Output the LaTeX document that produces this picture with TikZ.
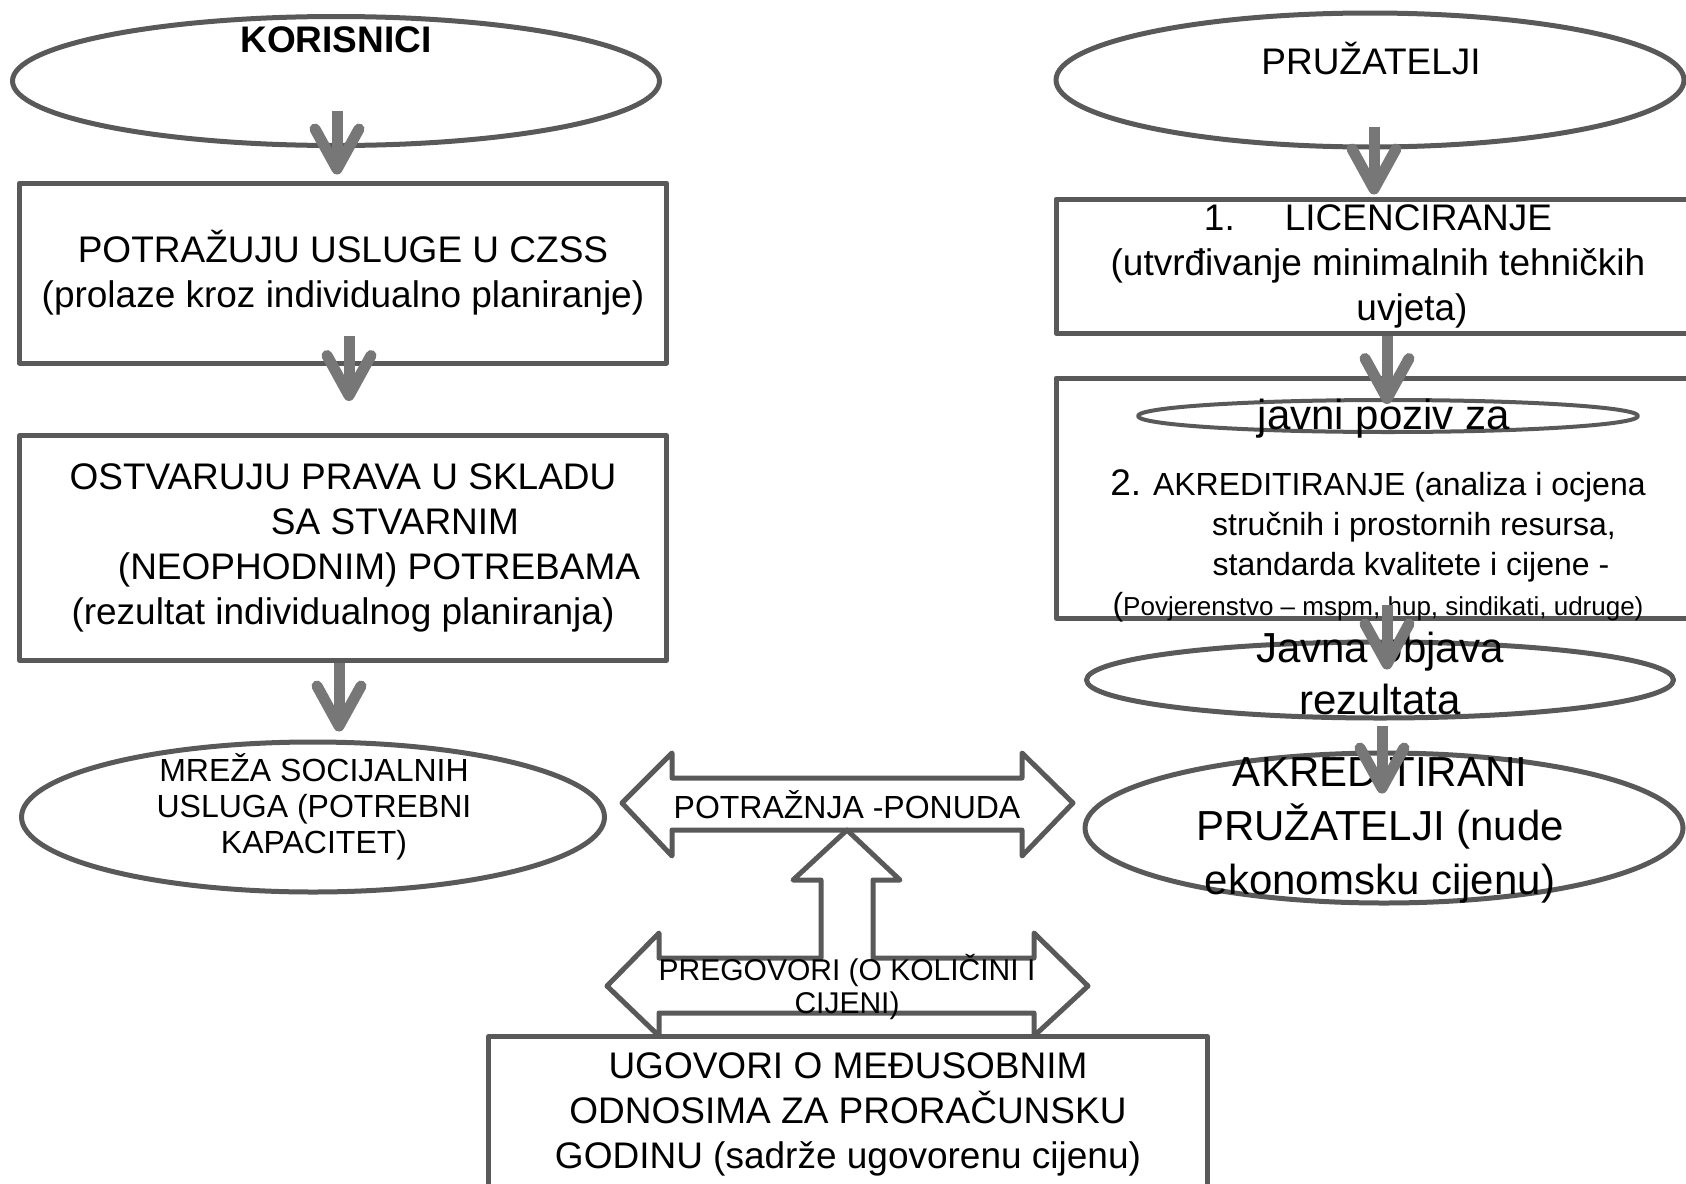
\documentclass[tikz,border=0pt]{standalone}
\usepackage{fontspec}
\setmainfont{Liberation Sans}
\usepackage{tikz}
\usetikzlibrary{arrows.meta,shapes.geometric,positioning}
\definecolor{linegray}{HTML}{595959}
\definecolor{arrowgray}{HTML}{777777}

\begin{document}
\begin{tikzpicture}[x=1pt, y=-1pt, line join=round]
\tikzstyle{box}=[rectangle, draw=linegray, line width=5pt, inner sep=2pt, align=center, font=\fontsize{37}{45}\selectfont]
\tikzstyle{oval}=[ellipse, draw=linegray, line width=5pt, inner sep=0pt]
\tikzstyle{txt}=[inner sep=0pt, align=center]
\tikzstyle{block}=[draw=linegray, line width=5pt]
\tikzstyle{down}=[draw=arrowgray, line width=11pt, -{Straight Barb[length=40pt 0, width=44pt 0, round]}]

\useasboundingbox (0,0) rectangle (1686,1183);
\clip (0,0) rectangle (1686,1183);

% korisnici
\node[oval, minimum width=647pt, minimum height=129pt] (k0) at (336,81) {};
\node[txt, font=\fontsize{37}{45}\selectfont\bfseries] (k0t) at (336,40) {KORISNICI};
\node[box, minimum width=647pt, minimum height=180pt] (b1) at (343,273)
	{POTRAŽUJU USLUGE U CZSS\\(prolaze kroz individualno planiranje)};
\node[box, minimum width=647pt, minimum height=225pt] (b2) at (343,548)
	{OSTVARUJU PRAVA U SKLADU\\\hspace*{104pt}SA STVARNIM\\\hspace*{72pt}(NEOPHODNIM) POTREBAMA\\(rezultat individualnog planiranja)};
\node[oval, minimum width=583pt, minimum height=150pt] (m0) at (313,817) {};
\node[txt, font=\fontsize{32}{36}\selectfont] (m0t) at (314,807) {MREŽA SOCIJALNIH\\USLUGA (POTREBNI\\KAPACITET)};

% pruzatelji
\node[oval, minimum width=628pt, minimum height=134pt] (p0) at (1370,80) {};
\node[txt, font=\fontsize{37}{45}\selectfont] (p0t) at (1371,59) {PRUŽATELJI};
\node[box, minimum width=644pt, minimum height=134pt] (b3) at (1378,266)
	{1.\hspace{50pt}LICENCIRANJE\\(utvrđivanje minimalnih tehničkih\\\hspace*{68pt}uvjeta)};
\node[box, minimum width=644pt, minimum height=240pt] (b4) at (1378,498) {};
\node[oval, line width=4pt, minimum width=500pt, minimum height=32pt] (e0) at (1388,416) {};
\node[txt, font=\fontsize{42}{50}\selectfont] (e0t) at (1384,419) {javni poziv za};
\node[txt, font=\fontsize{32}{40}\selectfont] (b4t) at (1378,546)
	{{\fontsize{37}{40}\selectfont 2.} AKREDITIRANJE (analiza i ocjena\\\hspace*{72pt}stručnih i prostornih resursa,\\\hspace*{66pt}standarda kvalitete i cijene -\\(\fontsize{26}{40}\selectfont Povjerenstvo – mspm, hup, sindikati, udruge)};
\node[oval, minimum width=587pt, minimum height=76pt] (j0) at (1380,680) {};
\node[txt, font=\fontsize{42}{52}\selectfont] (j0t) at (1380,673) {Javna objava\\rezultata};
\node[oval, minimum width=598pt, minimum height=150pt] (r0) at (1384,828) {};
\node[txt, font=\fontsize{42}{54}\selectfont] (r0t) at (1380,830) {AKREDITIRANI\\PRUŽATELJI (nude\\ekonomsku cijenu)};

% sredina
\node[box, minimum width=719pt, minimum height=155pt] (u0) at (848,1114)
	{UGOVORI O MEĐUSOBNIM\\ODNOSIMA ZA PRORAČUNSKU\\GODINU (sadrže ugovorenu cijenu)};
\draw[block] (622,803) -- (672,753) -- (672,778) -- (1022,778) -- (1022,753) -- (1073,803)
	-- (1022,856) -- (1022,830) -- (672,830) -- (672,856) -- cycle;
\draw[block] (607,986) -- (659,933) -- (659,958) -- (821,958) -- (821,880) -- (793,880)
	-- (847,830) -- (900,880) -- (873,880) -- (873,958) -- (1034,958) -- (1034,933)
	-- (1088,986) -- (1034,1036) -- (1034,1013) -- (659,1013) -- (659,1036) -- cycle;
\node[txt, font=\fontsize{32}{36}\selectfont] (d0) at (847,805) {POTRAŽNJA -PONUDA};
\node[txt, font=\fontsize{30}{33}\selectfont] (n0) at (847,987) {PREGOVORI (O KOLIČINI I\\CIJENI)};

\path
	([xshift=1pt,yshift=37pt]k0.south)	edge[down]	([xshift=-6pt,yshift=6pt]b1.north)
	([xshift=6pt,yshift=30pt]b1.south)	edge[down]	([xshift=6pt,yshift=32pt]b2.north)
	([xshift=-4pt]b2.south)				edge[down]	([xshift=26pt,yshift=8pt]m0.north)
	([xshift=4pt,yshift=23pt]p0.south)	edge[down]	([xshift=-4pt,yshift=2pt]b3.north)
	([xshift=9pt]b3.south)				edge[down]	([xshift=-1pt,yshift=-6pt]e0.north)
	([xshift=9pt,yshift=16pt]b4.south)	edge[down]	([xshift=7pt,yshift=-30pt]j0.north)
	([xshift=2pt,yshift=-5pt]j0.south)	edge[down]	([xshift=-2pt,yshift=-43pt]r0.north)
;

\end{tikzpicture}
\end{document}
